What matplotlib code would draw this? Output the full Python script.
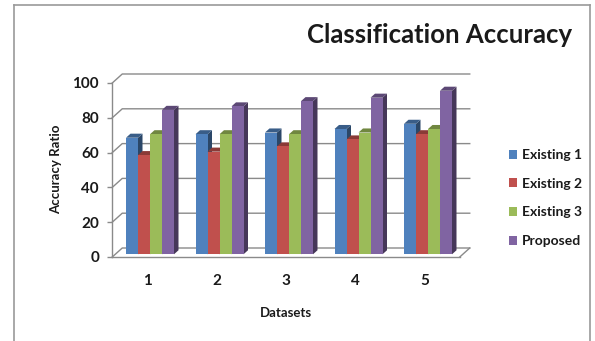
import matplotlib
matplotlib.use("Agg")
import matplotlib.pyplot as plt
from matplotlib.patches import Polygon, Patch
from matplotlib.lines import Line2D
import numpy as np

# ---- data -------------------------------------------------------------
datasets = ["1", "2", "3", "4", "5"]
series_names = ["Existing 1", "Existing 2", "Existing 3", "Proposed"]
existing1 = [67, 69, 70, 72, 75]
existing2 = [57, 59, 62, 66, 69]
existing3 = [69, 69, 69, 70, 72]
proposed = [83, 85, 88, 90, 94]
y_ticks = [0, 20, 40, 60, 80, 100]

series_values = [existing1, existing2, existing3, proposed]
colors = ["#4F81BD", "#C0504D", "#9BBB59", "#8064A2"]

FONT = ["Lato", "DejaVu Sans"]
plt.rcParams["font.family"] = FONT

# ---- figure & pseudo-3D axes geometry ----------------------------------
W, H = 595, 341
fig = plt.figure(figsize=(W / 100, H / 100), dpi=100)

slot = 69.5          # pixels per category on the front plane
x_first = 147        # pixel x of the first category
y_zero = 257         # pixel y of value 0 on the front plane
px_per_unit = 1.74   # pixels per value unit
depth_px = (10, 9)   # wall depth offset (right, up)

ddx = depth_px[0] / slot
ddy = depth_px[1] / px_per_unit
left_px = x_first - 0.5 * slot
width_px = (len(datasets) + ddx) * slot
top_val = 100 + ddy
height_px = top_val * px_per_unit

ax = fig.add_axes([left_px / W, (H - y_zero) / H, width_px / W, height_px / H])
ax.set_xlim(-0.5, len(datasets) - 0.5 + ddx)
ax.set_ylim(0, top_val)
ax.patch.set_visible(False)

grid_col = "#8a8a8a"
text_col = "#1a1a1a"
x0, x1 = -0.5, len(datasets) - 0.5

# back-wall gridlines with their side-wall connectors
for v in y_ticks:
    ax.plot([x0, x0 + ddx, x1 + ddx], [v, v + ddy, v + ddy],
            color=grid_col, lw=1.0, zorder=1, clip_on=False)
# floor right edge
ax.plot([x1, x1 + ddx], [0, ddy], color=grid_col, lw=1.0, zorder=1, clip_on=False)

# spines = front axis lines
for s in ("top", "right"):
    ax.spines[s].set_visible(False)
ax.spines["left"].set_bounds(0, 100)
ax.spines["bottom"].set_bounds(x0, x1)
for s in ("left", "bottom"):
    ax.spines[s].set_color(grid_col)
    ax.spines[s].set_linewidth(1.0)

ax.set_yticks(y_ticks)
ax.set_yticklabels([str(t) for t in y_ticks])
ax.set_xticks(range(len(datasets)))
ax.set_xticklabels(datasets)
ax.tick_params(axis="y", length=3.5, width=1.0, color=grid_col, pad=6,
               labelsize=11, labelcolor=text_col)
ax.tick_params(axis="x", length=0, pad=12, labelsize=11, labelcolor=text_col)
for lab in ax.get_yticklabels() + ax.get_xticklabels():
    lab.set_fontweight("bold")

# ---- 3D bars ------------------------------------------------------------
bw = 12 / slot                 # bar width
front = 0.3                    # bar front plane (fraction of wall depth)
bdepth = 0.45                  # bar depth (fraction of wall depth)
bdx, bdy = bdepth * ddx, bdepth * ddy
base = front * ddy
xs = np.arange(len(datasets))


def shade(hex_col, f):
    c = np.array(matplotlib.colors.to_rgb(hex_col))
    return tuple(np.clip(c * f, 0, 1))


for k, (vals, col) in enumerate(zip(series_values, colors)):
    xc = xs + (k - 1.5) * bw + front * ddx
    z = 3 + k
    ax.bar(xc, vals, width=bw, bottom=base, color=col, zorder=z + 0.2,
           linewidth=0)
    for x, v in zip(xc, vals):
        r = x + bw / 2
        l = x - bw / 2
        top = base + v
        side = Polygon([(r, base), (r + bdx, base + bdy), (r + bdx, top + bdy), (r, top)],
                       closed=True, facecolor=shade(col, 0.55), edgecolor="none",
                       zorder=z + 0.1, clip_on=False)
        cap = Polygon([(l, top), (r, top), (r + bdx, top + bdy), (l + bdx, top + bdy)],
                      closed=True, facecolor=shade(col, 0.72), edgecolor="none",
                      zorder=z + 0.1, clip_on=False)
        ax.add_patch(side)
        ax.add_patch(cap)

# ---- titles & labels ------------------------------------------------------
fig.text(440 / W, 1 - 35 / H, "Classification Accuracy", ha="center", va="center",
         fontsize=18.5, fontweight="bold", color=text_col)
fig.text(56 / W, 1 - 169 / H, "Accuracy Ratio", rotation=90, ha="center",
         va="center", fontsize=9.5, fontweight="bold", color=text_col)
fig.text(286 / W, 1 - 313 / H, "Datasets", ha="center", va="center",
         fontsize=9.5, fontweight="bold", color=text_col)

# ---- legend ---------------------------------------------------------------
handles = [Patch(facecolor=c, edgecolor="none") for c in colors]
leg = fig.legend(handles, series_names, loc="center left",
                 bbox_to_anchor=(503 / W, 1 - 198 / H), frameon=False,
                 handlelength=0.6, handleheight=0.6, handletextpad=0.35,
                 labelspacing=1.2, borderaxespad=0,
                 prop={"family": FONT, "weight": "bold", "size": 10})
for t in leg.get_texts():
    t.set_color(text_col)

# ---- chart-area border ------------------------------------------------------
border_col = "#9a9a9a"
fig.add_artist(Line2D([14 / W, 14 / W], [0, 1 - 5 / H], color=border_col, lw=1.2))
fig.add_artist(Line2D([14 / W, 590 / W], [1 - 5 / H, 1 - 5 / H], color=border_col, lw=1.2))
fig.add_artist(Line2D([590 / W, 590 / W], [0, 1 - 5 / H], color=border_col, lw=1.2))

fig.savefig("out.png", dpi=100)
